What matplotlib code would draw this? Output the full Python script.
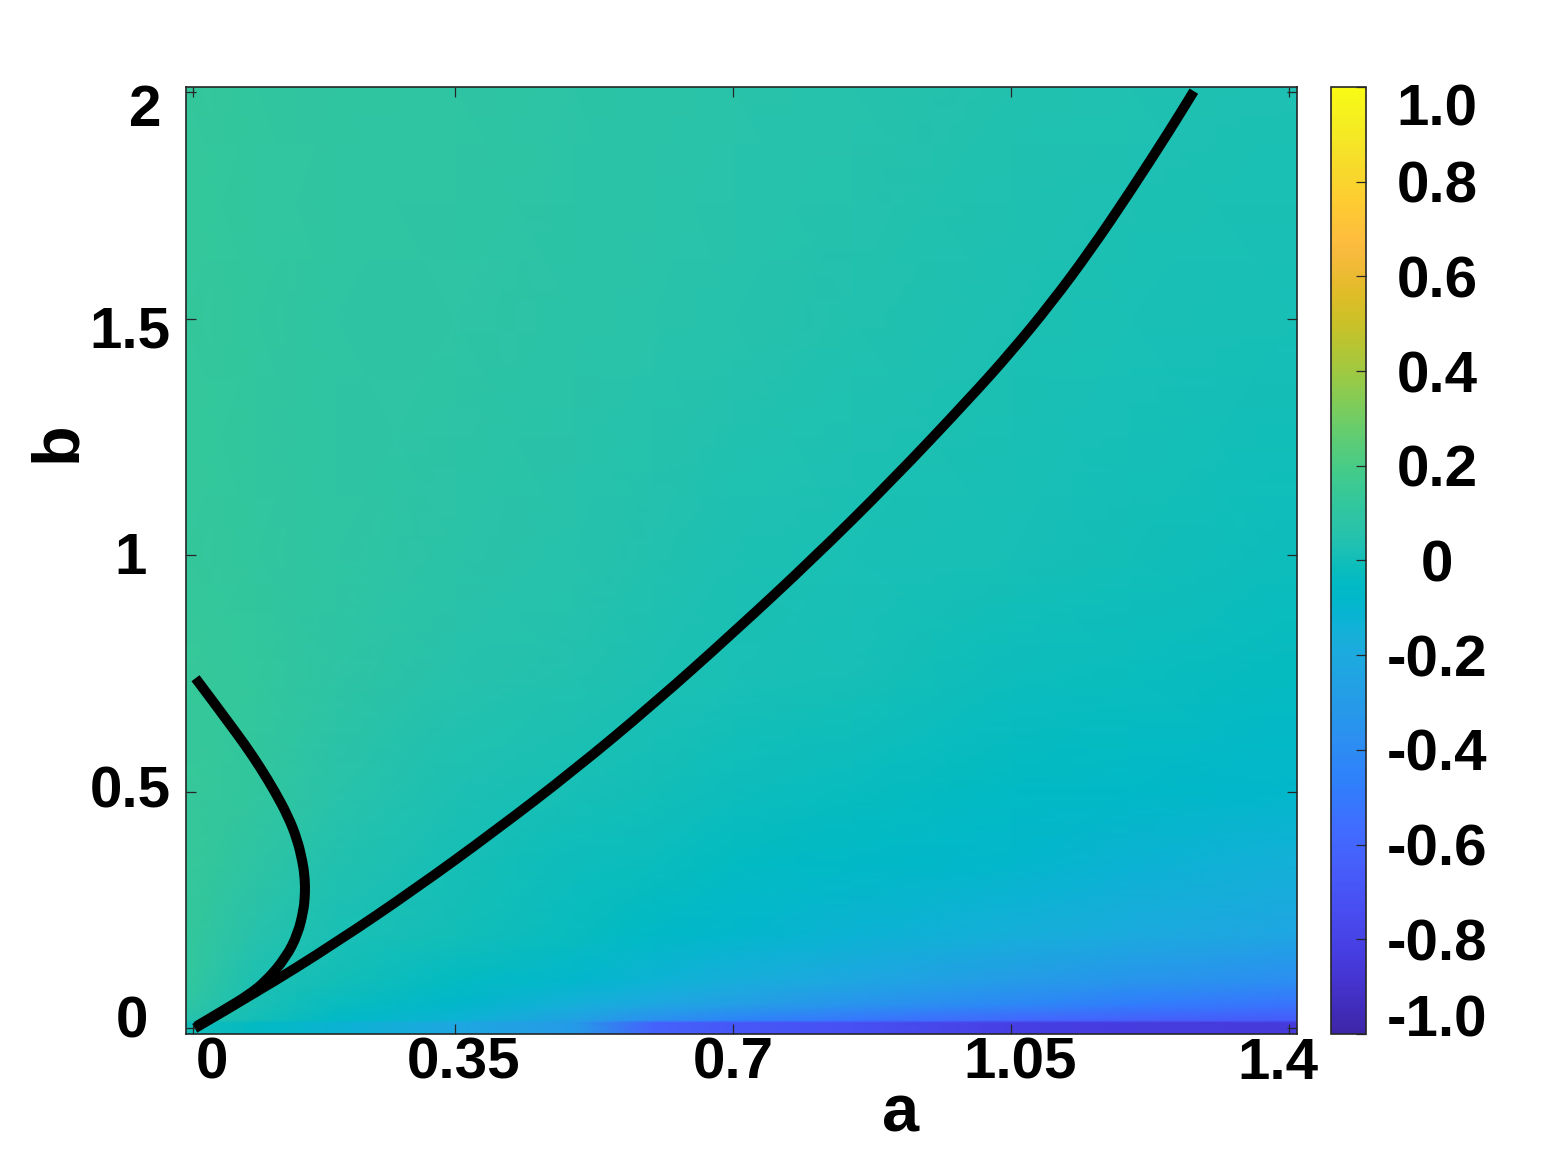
import numpy as np
import matplotlib
matplotlib.use("Agg")
import matplotlib.pyplot as plt
import matplotlib.transforms as mtransforms
from matplotlib.colors import LinearSegmentedColormap
from matplotlib.path import Path
from matplotlib.patches import PathPatch

# grid of the map (a across, b up) and values
a_nodes = [0.011, 0.1, 0.2, 0.35, 0.5, 0.6, 0.7, 0.85, 1.05, 1.2, 1.41]
b_nodes = [-0.012, 0.012, 0.017, 0.05, 0.1, 0.2, 0.35, 0.5, 0.75, 1.0, 1.5, 1.99]
z_rows = [
    [0.00, -0.05, -0.12, -0.22, -0.30, -0.62, -0.68, -0.72, -0.82, -0.84, -0.85],
    [0.00, -0.05, -0.12, -0.22, -0.30, -0.62, -0.68, -0.72, -0.82, -0.84, -0.85],
    [0.06, 0.00, -0.06, -0.13, -0.26, -0.38, -0.45, -0.52, -0.60, -0.64, -0.67],
    [0.10, 0.02, -0.03, -0.08, -0.16, -0.22, -0.28, -0.35, -0.42, -0.48, -0.53],
    [0.12, 0.03, 0.00, -0.04, -0.09, -0.13, -0.17, -0.22, -0.29, -0.34, -0.39],
    [0.13, 0.06, 0.02, 0.00, -0.03, -0.06, -0.09, -0.12, -0.16, -0.19, -0.23],
    [0.14, 0.09, 0.04, 0.01, -0.01, -0.02, -0.04, -0.06, -0.09, -0.12, -0.15],
    [0.14, 0.11, 0.07, 0.03, 0.01, 0.00, -0.01, -0.03, -0.05, -0.07, -0.09],
    [0.14, 0.12, 0.09, 0.06, 0.04, 0.03, 0.02, 0.01, -0.01, -0.02, -0.035],
    [0.13, 0.115, 0.095, 0.075, 0.055, 0.045, 0.03, 0.02, 0.01, 0.00, -0.01],
    [0.13, 0.115, 0.10, 0.09, 0.075, 0.065, 0.055, 0.045, 0.03, 0.02, 0.015],
    [0.13, 0.115, 0.105, 0.095, 0.085, 0.075, 0.065, 0.055, 0.045, 0.035, 0.025],
]

# the two black curves
main_a = [0.022, 0.1, 0.2, 0.3, 0.4, 0.5, 0.6, 0.7, 0.8, 0.9, 1.0, 1.05, 1.1, 1.15,
          1.2, 1.25, 1.28]
main_b = [0.0, 0.076, 0.181, 0.295, 0.417, 0.546, 0.686, 0.836, 0.992, 1.158, 1.336,
          1.430, 1.532, 1.645, 1.769, 1.899, 1.981]
left_a = [0.023, 0.041, 0.063, 0.085, 0.105, 0.123, 0.139, 0.151, 0.158, 0.160, 0.161,
          0.1605, 0.159, 0.152, 0.137, 0.112, 0.0895, 0.060, 0.040, 0.024]
left_b = [0.74, 0.70, 0.65, 0.60, 0.55, 0.50, 0.45, 0.40, 0.35, 0.325, 0.30,
          0.275, 0.25, 0.20, 0.15, 0.10, 0.07, 0.04, 0.02, 0.004]

x_ticks = [0.02, 0.35, 0.7, 1.05, 1.4]
x_labels = ["0", "0.35", "0.7", "1.05", "1.4"]
y_ticks = [0.0, 0.5, 1.0, 1.5, 1.98]
y_labels = ["0", "0.5", "1", "1.5", "2"]
c_ticks = [-1.0, -0.8, -0.6, -0.4, -0.2, 0.0, 0.2, 0.4, 0.6, 0.8, 1.0]
c_labels = ["-1.0", "-0.8", "-0.6", "-0.4", "-0.2", "0", "0.2", "0.4", "0.6", "0.8", "1.0"]

# MATLAB parula, 64 entries
PARULA = [
    (0.2422, 0.1504, 0.6603), (0.2504, 0.1650, 0.7076), (0.2578, 0.1818, 0.7511),
    (0.2647, 0.1978, 0.7952), (0.2706, 0.2147, 0.8364), (0.2751, 0.2342, 0.8710),
    (0.2783, 0.2559, 0.8991), (0.2803, 0.2782, 0.9221), (0.2813, 0.3006, 0.9414),
    (0.2810, 0.3228, 0.9579), (0.2795, 0.3447, 0.9717), (0.2760, 0.3667, 0.9829),
    (0.2699, 0.3892, 0.9906), (0.2602, 0.4123, 0.9952), (0.2440, 0.4358, 0.9988),
    (0.2206, 0.4603, 0.9973), (0.1963, 0.4847, 0.9892), (0.1834, 0.5074, 0.9798),
    (0.1786, 0.5289, 0.9682), (0.1764, 0.5499, 0.9520), (0.1687, 0.5703, 0.9359),
    (0.1540, 0.5902, 0.9218), (0.1460, 0.6091, 0.9079), (0.1380, 0.6276, 0.8973),
    (0.1248, 0.6459, 0.8883), (0.1113, 0.6635, 0.8763), (0.0952, 0.6798, 0.8598),
    (0.0689, 0.6948, 0.8394), (0.0297, 0.7082, 0.8163), (0.0036, 0.7203, 0.7917),
    (0.0067, 0.7312, 0.7660), (0.0433, 0.7411, 0.7394), (0.0964, 0.7500, 0.7120),
    (0.1408, 0.7584, 0.6842), (0.1717, 0.7670, 0.6554), (0.1938, 0.7758, 0.6251),
    (0.2161, 0.7843, 0.5923), (0.2470, 0.7918, 0.5567), (0.2906, 0.7973, 0.5188),
    (0.3406, 0.8008, 0.4789), (0.3909, 0.8029, 0.4354), (0.4456, 0.8024, 0.3909),
    (0.5044, 0.7993, 0.3480), (0.5616, 0.7942, 0.3045), (0.6174, 0.7876, 0.2612),
    (0.6720, 0.7793, 0.2227), (0.7242, 0.7698, 0.1910), (0.7738, 0.7598, 0.1646),
    (0.8203, 0.7498, 0.1535), (0.8634, 0.7406, 0.1596), (0.9035, 0.7330, 0.1774),
    (0.9393, 0.7288, 0.2100), (0.9728, 0.7298, 0.2394), (0.9956, 0.7434, 0.2371),
    (0.9970, 0.7659, 0.2199), (0.9952, 0.7893, 0.2028), (0.9892, 0.8136, 0.1885),
    (0.9786, 0.8386, 0.1766), (0.9676, 0.8639, 0.1643), (0.9610, 0.8890, 0.1537),
    (0.9597, 0.9135, 0.1423), (0.9628, 0.9373, 0.1265), (0.9691, 0.9606, 0.1064),
    (0.9769, 0.9839, 0.0805),
]
parula = LinearSegmentedColormap.from_list("parula", PARULA, N=256)

plt.rcParams["font.family"] = ["Liberation Sans", "DejaVu Sans"]
plt.rcParams["font.weight"] = "bold"


def smooth_path(xs, ys):
    # quadratic bezier pieces with the read points as control points
    pts = np.column_stack([xs, ys])
    verts = [pts[0]]
    codes = [Path.MOVETO]
    for i in range(1, len(pts) - 1):
        verts += [pts[i], (pts[i] + pts[i + 1]) / 2]
        codes += [Path.CURVE3, Path.CURVE3]
    verts.append(pts[-1])
    codes.append(Path.LINETO)
    return Path(verts, codes)


fig = plt.figure(figsize=(15.46, 11.62), dpi=100)
ax = fig.add_axes([0.1203, 0.1102, 0.7187, 0.8150])
cax = fig.add_axes([0.8609, 0.1102, 0.0226, 0.8150])

A, B = np.meshgrid(a_nodes, b_nodes)
Z = np.array(z_rows)
mesh = ax.pcolormesh(A, B, Z, shading="gouraud", cmap=parula, vmin=-1, vmax=1)

for xs, ys in [(main_a, main_b), (left_a, left_b)]:
    ax.add_patch(PathPatch(smooth_path(xs, ys), fill=False, edgecolor="black",
                           lw=7.2, capstyle="butt", joinstyle="round"))

ax.set_xlim(0.011, 1.41)
ax.set_ylim(-0.012, 1.99)
ax.set_xticks(x_ticks)
ax.set_xticklabels(x_labels)
ax.set_yticks(y_ticks)
ax.set_yticklabels(y_labels)

edge = "#262626"
for sp in ax.spines.values():
    sp.set_color(edge)
    sp.set_linewidth(1.2)
ax.tick_params(direction="in", top=True, right=True, length=7, width=0.9,
               color=edge, labelsize=42, labelcolor="black")
ax.tick_params(axis="x", pad=2)
ax.tick_params(axis="y", pad=40)
for lab in ax.get_yticklabels():
    lab.set_ha("center")


def shift(dx_px, dy_px):
    return mtransforms.ScaledTranslation(dx_px / 100, dy_px / 100, fig.dpi_scale_trans)


# MATLAB pulls the end labels slightly inward
for t, dx in zip(ax.xaxis.get_major_ticks(), [19, 8, 0, 9, -11]):
    t.label1.set_transform(t.label1.get_transform() + shift(dx, 0))
for t, dx, dy in zip(ax.yaxis.get_major_ticks(), [2, 0, 0, 0, 15], [12, 5, 2, -8, -13]):
    t.label1.set_transform(t.label1.get_transform() + shift(dx, dy))

ax.set_xlabel("a", fontsize=48, fontweight="bold")
ax.set_ylabel("b", fontsize=48, fontweight="bold")
ax.xaxis.set_label_coords(0.643, -0.085)
ax.xaxis.label.set_va("center")
ax.yaxis.set_label_coords(-0.115, 0.625)
ax.yaxis.label.set_va("center")

cb = fig.colorbar(mesh, cax=cax)
cb.set_ticks(c_ticks)
cb.outline.set_edgecolor(edge)
cb.outline.set_linewidth(1.2)
cax.tick_params(direction="in", length=7, width=0.9, color=edge, labelright=False)

# colorbar labels as text, centred in a column right of the bar
lab_tr = mtransforms.blended_transform_factory(cax.transAxes, cax.transData)
for v, s in zip(c_ticks, c_labels):
    dy = -6
    if v == c_ticks[0]:
        dy = 12
    elif v == c_ticks[-1]:
        dy = -24
    cax.text(1.0, v, s, transform=lab_tr + shift(71, dy), ha="center", va="center",
             fontsize=42, fontweight="bold", color="black", clip_on=False)

fig.savefig("out.png", dpi=100)
